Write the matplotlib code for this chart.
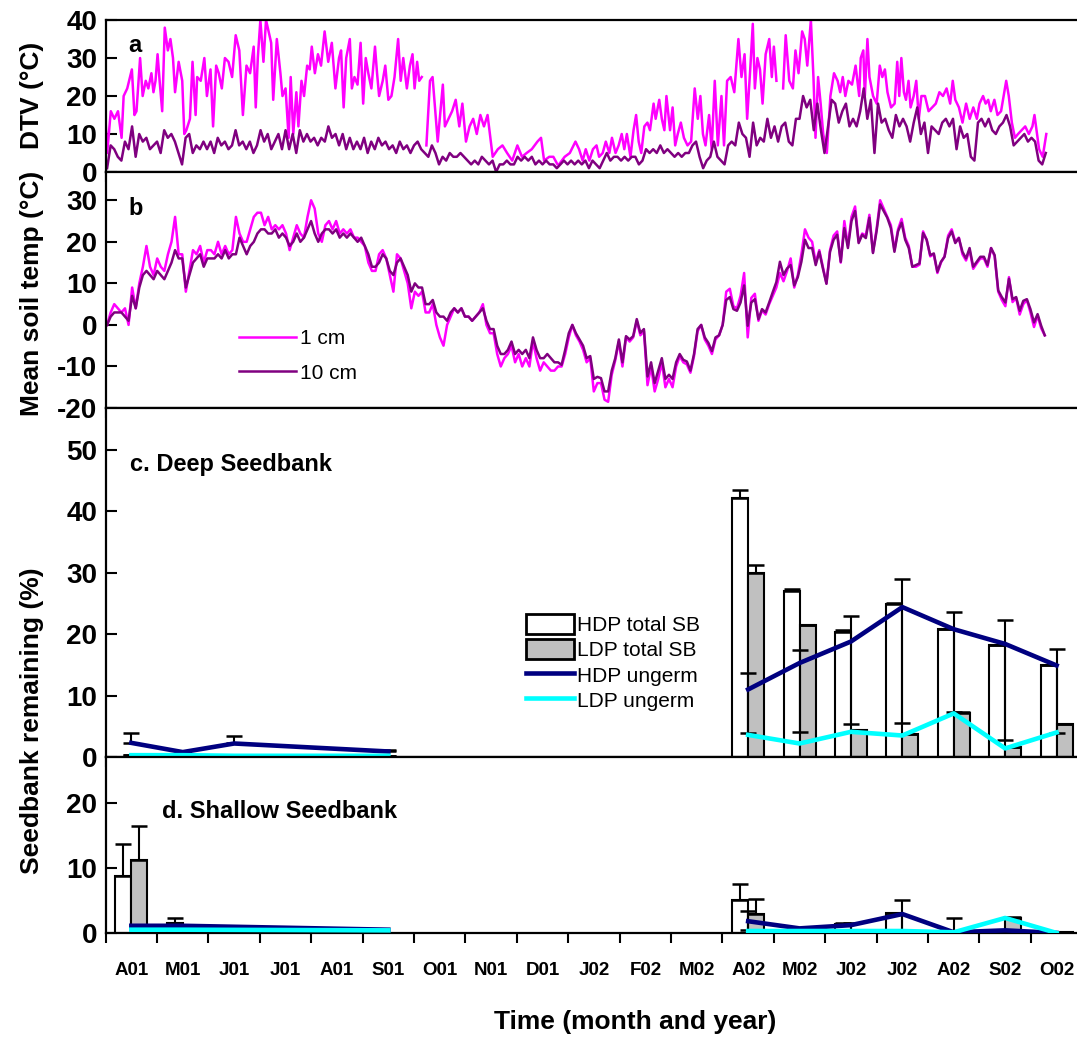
import numpy as np
import matplotlib.pyplot as plt
from matplotlib.patches import Patch
from matplotlib.lines import Line2D

plt.rcParams['font.family'] = ['Liberation Sans', 'DejaVu Sans']

# month labels, Apr 2001 - Oct 2002 (one unit on the x axis = one month)
month_labels = ['A01', 'M01', 'J01', 'J01', 'A01', 'S01', 'O01', 'N01', 'D01', 'J02',
                'F02', 'M02', 'A02', 'M02', 'J02', 'J02', 'A02', 'S02', 'O02']

nan = np.nan

# a. daily temperature variation at 1 cm (month, degC)
dtv1_pts = [
    (0.00, 13), (0.03, 5), (0.10, 16), (0.17, 14), (0.24, 16), (0.31, 9), (0.35, 20), (0.42, 22), (0.51, 27), (0.56, 15),
    (0.60, 16), (0.67, 30), (0.72, 20), (0.78, 24), (0.83, 22), (0.89, 26), (0.93, 21), (0.97, 24), (1.01, 31), (1.05, 24),
    (1.10, 16), (1.15, 38), (1.21, 32), (1.26, 35), (1.31, 30), (1.35, 21), (1.42, 29), (1.49, 24), (1.53, 10), (1.57, 11),
    (1.64, 14), (1.69, 29), (1.75, 15), (1.78, 25), (1.85, 24), (1.92, 30), (1.97, 20), (2.04, 27), (2.09, 12), (2.15, 28),
    (2.20, 26), (2.26, 22), (2.32, 30), (2.39, 29), (2.46, 25), (2.53, 36), (2.60, 32), (2.67, 15), (2.74, 28), (2.81, 26),
    (2.88, 33), (2.92, 17), (2.96, 30), (3.01, 40), (3.07, 29), (3.12, 40), (3.17, 37), (3.22, 34), (3.26, 19), (3.33, 35),
    (3.40, 26), (3.44, 20), (3.50, 22), (3.56, 9), (3.60, 25), (3.65, 10), (3.71, 21), (3.75, 12), (3.81, 24), (3.86, 20),
    (3.92, 28), (3.97, 27), (4.01, 33), (4.07, 26), (4.13, 31), (4.19, 28), (4.26, 37), (4.33, 29), (4.40, 34), (4.47, 22),
    (4.54, 30), (4.58, 32), (4.63, 17), (4.68, 30), (4.75, 35), (4.79, 22), (4.84, 25), (4.90, 23), (4.96, 34), (5.01, 18),
    (5.06, 30), (5.11, 26), (5.17, 22), (5.24, 33), (5.28, 26), (5.32, 20), (5.39, 24), (5.44, 28), (5.50, 19), (5.56, 20),
    (5.62, 25), (5.69, 35), (5.74, 24), (5.79, 30), (5.86, 22), (5.92, 28), (5.97, 31), (6.01, 22), (6.06, 29), (6.10, 24),
    (6.15, 25), (6.20, nan), (6.24, 7), (6.31, 24), (6.36, 25), (6.42, 15), (6.46, 8), (6.56, 23), (6.60, 12), (6.67, 14),
    (6.74, 16), (6.81, 19), (6.88, 12), (6.94, 18), (7.01, 8), (7.08, 12), (7.15, 14), (7.22, 10), (7.29, 15), (7.36, 12),
    (7.43, 15), (7.53, 4), (7.63, 6), (7.72, 7), (7.81, 5), (7.91, 3), (8.01, 7), (8.10, 4), (8.19, 5), (8.29, 6),
    (8.40, 8), (8.47, 9), (8.53, 3), (8.63, 4), (8.71, 4), (8.79, 2), (8.82, 2), (8.93, 4), (9.03, 5), (9.14, 8),
    (9.21, 6), (9.28, 3), (9.34, 6), (9.41, 3), (9.48, 6), (9.55, 7), (9.60, 4), (9.67, 5), (9.73, 8), (9.80, 5),
    (9.85, 9), (9.92, 5), (9.98, 7), (10.04, 10), (10.09, 6), (10.14, 10), (10.21, 4), (10.27, 11), (10.32, 15), (10.37, 8),
    (10.42, 5), (10.48, 12), (10.54, 13), (10.59, 11), (10.66, 18), (10.70, 14), (10.77, 19), (10.82, 14), (10.87, 11), (10.91, 20),
    (10.98, 11), (11.03, 17), (11.08, 7), (11.13, 10), (11.19, 13), (11.25, 9), (11.32, 7), (11.39, 8), (11.46, 22), (11.52, 14),
    (11.57, 20), (11.62, 10), (11.67, 7), (11.74, 15), (11.79, 6), (11.85, 24), (11.91, 7), (11.98, 20), (12.03, 7), (12.09, 24),
    (12.16, 25), (12.23, 21), (12.31, 35), (12.37, 25), (12.43, 31), (12.48, 14), (12.54, 27), (12.59, 39), (12.63, 22), (12.68, 30),
    (12.73, 27), (12.78, 18), (12.84, 31), (12.91, 35), (12.96, 25), (13.00, 33), (13.05, 24), (13.10, nan), (13.18, 22), (13.23, 36),
    (13.30, 24), (13.37, 22), (13.42, 32), (13.48, 26), (13.55, 37), (13.60, 35), (13.65, 28), (13.72, 40), (13.77, 25), (13.81, 9),
    (13.86, 25), (13.91, 18), (13.96, 10), (14.03, 5), (14.10, 20), (14.17, 26), (14.24, 24), (14.29, 21), (14.34, 25), (14.39, 20),
    (14.45, 24), (14.52, 23), (14.59, 28), (14.66, 20), (14.69, 30), (14.74, 32), (14.77, 20), (14.82, 35), (14.86, 25), (14.93, 20),
    (15.00, 18), (15.06, 28), (15.11, 25), (15.16, 27), (15.21, 21), (15.28, 17), (15.35, 18), (15.40, 29), (15.44, 20), (15.48, 30),
    (15.53, 21), (15.57, 19), (15.62, 24), (15.66, 17), (15.72, 20), (15.77, 24), (15.82, 14), (15.87, 20), (15.94, 20), (16.01, 16),
    (16.08, 17), (16.15, 18), (16.22, 21), (16.29, 20), (16.36, 22), (16.43, 18), (16.48, 24), (16.53, 19), (16.60, 17), (16.67, 13),
    (16.74, 18), (16.81, 14), (16.88, 17), (16.95, 14), (17.00, 18), (17.07, 20), (17.12, 18), (17.17, 19), (17.22, 16), (17.29, 19),
    (17.35, 15), (17.42, 16), (17.47, 20), (17.52, 24), (17.57, 20), (17.63, 13), (17.69, 9), (17.75, 10), (17.82, 11), (17.89, 12),
    (17.96, 10), (18.03, 12), (18.07, 15), (18.12, 10), (18.16, 6), (18.23, 4), (18.30, 10),
]

# a. daily temperature variation at 10 cm, about every 2 days
dtv10 = [
    1, 7, 6, 4, 3, 8, 6, 12, 4, 10, 8, 9, 6, 7, 8, 5, 11, 9, 10, 8,
    5, 2, 9, 10, 5, 7, 6, 8, 6, 8, 5, 9, 7, 8, 6, 7, 11, 7, 8, 6,
    8, 5, 7, 11, 8, 10, 6, 8, 10, 6, 11, 6, 10, 5, 11, 8, 10, 8, 9, 7,
    9, 8, 12, 9, 10, 7, 10, 6, 9, 6, 8, 6, 9, 5, 8, 6, 9, 7, 8, 6,
    7, 5, 8, 6, 7, 5, 7, 8, 6, 5, 4, 7, 5, 2, 4, 3, 5, 4, 4, 5,
    4, 3, 2, 3, 2, 4, 3, 2, 3, 0, 2, 2, 3, 2, 2, 4, 3, 4, 3, 4,
    2, 3, 2, 3, 2, 2, 1,
    2, 3, 2, 3, 2, 3, 2, 3, 1, 3, 2, 1, 3, 5, 3, 4, 4, 3, 4, 3,
    4, 4, 2, 3, 6, 5, 6, 5, 7, 5, 6, 5, 4, 5, 4, 5, 5, 7, 8, 4,
    1, 3, 4, 8, 4, 3, 2, 7, 8, 7, 13, 10, 9, 4, 13, 7, 9, 8, 14, 9,
    12, 8, 12, 13, 8, 7, 14, 14, 20, 17, 19, 11, 18, 11, 5, 12, 19, 18, 13, 16,
    18, 12, 14, 12, 16, 22, 14, 19, 5, 18, 13, 14, 11, 9, 15, 12, 14, 12, 8, 13,
    17, 10, 13, 5, 12, 11, 10, 13, 14, 12, 14, 6, 12, 9, 10, 4, 3, 13, 14, 12,
    14, 11, 10, 12, 13, 15, 12, 7, 8, 9, 10, 8, 9, 8, 3, 2, 5,
]

# b. mean soil temperature, about every 2 days
soil1 = [
    0, 3, 5, 4, 3, 4, 0, 9, 4, 10, 14, 19, 14, 12, 16, 14, 13, 17, 20, 26,
    17, 17, 8, 13, 18, 17, 19, 15, 18, 18, 17, 20, 17, 19, 17, 18, 26, 22, 20, 20,
    23, 26, 27, 27, 24, 26, 23, 24, 23, 24, 22, 18, 21, 24, 22, 21, 26, 30, 28, 22,
    20, 24, 25, 23, 25, 22, 23, 22, 23, 21, 21, 20, 19, 15, 13, 13, 17, 18, 16, 12,
    8, 17, 16, 13, 10, 4, 8, 7, 8, 3, 3, 5, 0, -3, -5, 0, 2, 4, 3, 4,
    2, 2, 1, 2, 3, 5, 0, -2, -2, -7, -10, -8, -7, -5, -9, -7, -10, -8, -10, -4,
    -8, -11, -9, -10, -11, -11, -10,
    -10, -7, -3, 0, -2.5, -4, -6, -9, -8, -16, -14, -14, -18, -18.5, -12, -8.5, -4, -10, -3, -4,
    -3, 1, -2.5, -1.5, -14.5, -10, -16, -13, -9, -15, -13, -15, -10, -7.5, -9, -9.5, -11.5, -7.5, -1.5, 0,
    -3.5, -5, -7, -3.5, -2.5, 0, 8, 8.7, 4.5, 4, 7, 12.5, -3, 6.5, 7.5, 1, 3.5, 2.5, 5, 7,
    9, 12.5, 10.5, 13, 16, 9, 12, 17, 23, 21, 20, 15, 18, 14, 10, 18, 21.5, 22.5, 15, 25,
    19, 26, 28.5, 20, 22, 21.5, 26.5, 17.5, 23, 30, 28, 26, 24, 18, 23, 25.5, 21, 19, 14, 14,
    14.5, 22.5, 20.5, 16.5, 17, 12.5, 15, 16.5, 21.5, 23, 20, 21, 17, 15.5, 18, 13.5, 14.8, 16, 16, 14,
    18.5, 16.5, 8, 6, 4.5, 11.5, 5.5, 6.5, 2.5, 5, 6, 3, -0.5, 2.2, -0.8, -2.5,
]
soil10 = [
    0, 2, 3, 3, 3, 2, 1, 7, 4, 9, 12, 13, 12, 11, 13, 12, 11, 13, 15, 18,
    16, 16, 9, 12, 15, 16, 17, 14, 16, 16, 16, 17, 16, 18, 16, 17, 17, 21, 19, 17,
    19, 20, 22, 23, 23, 22, 22, 23, 21, 22, 21, 19, 20, 22, 20, 21, 23, 25, 22, 20,
    22, 23, 23, 22, 23, 21, 22, 21, 22, 21, 20, 21, 19, 17, 14, 14, 15, 17, 16, 13,
    12, 15, 16, 14, 12, 8, 10, 9, 9, 5, 5, 6, 3, 2, 2, 1, 3, 4, 3, 4,
    2, 2, 1, 2, 3, 4, 1, -1, -1, -5, -7, -7, -6, -4, -7, -6, -7, -6, -8, -3,
    -6, -8, -8, -7, -8, -9, -9,
    -9.6, -6, -2, 0, -2, -3.5, -5, -8, -7.5, -13, -12.5, -12.8, -16, -16, -11, -8, -3.5, -9, -2.7, -3.5,
    -2.7, 1.4, -1.9, -1, -12.4, -9, -14, -11, -8, -13, -12, -13, -9, -7, -8.4, -8.8, -11, -7, -1, 0,
    -3, -4.3, -6.3, -3, -2.5, 0, 6, 6.7, 3.8, 3.4, 5.4, 9.5, -0.2, 5.4, 6.2, 1.4, 3.8, 3, 5.4, 7.9,
    10.3, 15.2, 12, 13.6, 14.4, 9.5, 11.5, 15.2, 20.5, 18.5, 18.5, 14.4, 17.6, 13.6, 9.9, 17.6, 20.5, 21.7, 15.2, 23.3,
    18.5, 25, 27.4, 19.7, 21.7, 20.9, 25.8, 17.3, 22.5, 29, 27.4, 25.8, 23.3, 17.6, 22.5, 24.6, 20.5, 18.5, 14, 14.4,
    14.8, 22.1, 20.5, 16.8, 17.2, 12.8, 15.2, 16.4, 20.9, 22.5, 19.7, 20.9, 17.6, 16, 18.5, 14, 15.2, 16.4, 16.4, 14.4,
    18.5, 16.8, 8.3, 6.7, 5.4, 11.1, 6.2, 6.7, 3.4, 5.8, 6.2, 3.8, 0.6, 2.6, -0.2, -2.5,
]

# c. deep seedbank
deep01_hdp_x = [0.5, 1.5, 2.5, 5.5]
deep01_hdp_ug = [2.3, 0.8, 2.2, 0.9]
deep01_hdp_err = [1.6, 0.0, 1.3, 0.2]
deep01_ldp_x = [0.5, 1.5, 2.5, 4.5, 5.5]
deep01_ldp_ug = [0.3, 0.3, 0.2, 0.2, 0.2]
deep01_ldp_err = [0.1, 0.0, 0.0, 0.1, 0.0]

samp02_x = [12.5, 13.5, 14.5, 15.5, 16.5, 17.5, 18.5]
deep_hdp_tot = [42.1, 27.0, 20.4, 24.9, 20.8, 18.3, 15.0]
deep_hdp_tot_err = [1.3, 0.3, 0.2, 0.2, 0.0, 0.0, 0.0]
deep_ldp_tot = [29.9, 21.5, 4.4, 3.7, 7.1, 1.6, 5.4]
deep_ldp_tot_err = [1.4, 0.0, 0.0, 0.0, 0.2, 0.0, 0.0]
deep_hdp_ug = [11.0, 15.3, 18.8, 24.4, 20.8, 18.4, 14.9]
deep_hdp_ug_up = [2.6, 2.1, 4.2, 4.5, 2.8, 3.9, 2.7]
deep_hdp_ug_dn = [7.1, 11.3, 13.5, 18.9, 13.4, 15.6, 11.0]
deep_ldp_ug = [3.6, 2.2, 4.1, 3.5, 7.1, 1.4, 4.0]

# d. shallow seedbank
sh01_bar_x = [0.5, 1.5, 4.5]
sh01_hdp_tot = [8.7, 1.6, 0.2]
sh01_hdp_tot_err = [4.9, 0.7, 0.0]
sh01_ldp_tot = [11.2, 0.6, 0.2]
sh01_ldp_tot_err = [5.2, 0.3, 0.0]
sh01_ug_x = [0.5, 1.5, 5.5]
sh01_hdp_ug = [1.1, 1.1, 0.5]
sh01_ldp_ug = [0.5, 0.5, 0.4]

sh_hdp_tot = [5.1, 0.3, 1.3, 3.1, 0.0, 0.3, 0.0]
sh_hdp_tot_err = [2.4, 0.0, 0.2, 0.0, 0.0, 0.0, 0.0]
sh_ldp_tot = [2.9, 0.2, 0.3, 0.2, 0.0, 2.3, 0.2]
sh_ldp_tot_err = [2.3, 0.0, 0.0, 0.0, 0.0, 0.1, 0.0]
sh_hdp_ug = [1.8, 0.7, 1.2, 2.9, 0.1, 0.4, 0.0]
sh_hdp_ug_up = [1.5, 0.1, 0.3, 2.2, 2.2, 0.1, 0.0]
sh_hdp_ug_dn = [1.3, 0.0, 0.7, 2.5, 0.0, 0.0, 0.0]
sh_ldp_ug = [0.3, 0.3, 0.3, 0.3, 0.1, 2.3, 0.0]

c_mag = '#ff00ff'
c_pur = '#800080'
c_navy = '#000080'
c_cyan = '#00ffff'
c_gray = '#c0c0c0'
bw = 0.31

fig = plt.figure(figsize=(10.77, 10.38), dpi=100)
L, W = 0.0981, 0.9068
ax_a = fig.add_axes([L, 0.8343, W, 0.1464])
ax_b = fig.add_axes([L, 0.6069, W, 0.2274])
ax_c = fig.add_axes([L, 0.2707, W, 0.3362])
ax_d = fig.add_axes([L, 0.1012, W, 0.1696])


def style(ax, ylim, yticks):
    ax.set_xlim(0, 19)
    ax.set_ylim(*ylim)
    ax.set_xticks(np.arange(0, 20))
    ax.set_xticklabels([])
    ax.set_yticks(yticks, labels=[str(t) for t in yticks], fontsize=20, fontweight='bold')
    ax.tick_params(axis='x', which='major', direction='out', length=7, width=1.5)
    ax.tick_params(axis='y', direction='in', length=8, width=1.5, pad=6)
    for s in ax.spines.values():
        s.set_linewidth(1.6)


# panel a
xa = [p[0] for p in dtv1_pts]
ya = [p[1] for p in dtv1_pts]
ax_a.plot(xa, ya, color=c_mag, lw=1.8)
ax_a.plot(np.linspace(0.028, 18.29, len(dtv10)), dtv10, color=c_pur, lw=1.8)
style(ax_a, (0, 40), [0, 10, 20, 30, 40])
ax_a.text(0.023, 0.835, 'a', transform=ax_a.transAxes, fontsize=17, fontweight='bold', va='center')

# panel b
xb = np.linspace(0.028, 18.27, len(soil1))
ax_b.plot(xb, soil1, color=c_mag, lw=1.8, label='1 cm')
ax_b.plot(xb, soil10, color=c_pur, lw=1.8, label='10 cm')
style(ax_b, (-20, 36.8), [-20, -10, 0, 10, 20, 30])
ax_b.text(0.023, 0.847, 'b', transform=ax_b.transAxes, fontsize=17, fontweight='bold', va='center')
ax_b.legend(loc='upper left', bbox_to_anchor=(0.137, 0.335), frameon=False, fontsize=15,
            handlelength=2.7, handletextpad=0.2, labelspacing=0.75, borderpad=0, borderaxespad=0)


def bars(ax, x, hdp, hdp_err, ldp, ldp_err):
    x = np.asarray(x)
    ax.bar(x - bw / 2, hdp, bw, color='white', edgecolor='black', lw=1.5, zorder=2)
    ax.bar(x + bw / 2, ldp, bw, color=c_gray, edgecolor='black', lw=1.5, zorder=2)
    for off, v, e in ((-bw / 2, hdp, hdp_err), (bw / 2, ldp, ldp_err)):
        v = np.asarray(v)
        e = np.asarray(e)
        m = (e > 0) | (v > 0)
        ax.errorbar(x[m] + off, v[m], yerr=[np.zeros(m.sum()), e[m]], fmt='none', ecolor='black',
                    elinewidth=1.5, capsize=5.5, capthick=1.8, zorder=3)


def ugerr(ax, x, y, dn, up):
    ax.errorbar(x, y, yerr=[dn, up], fmt='none', ecolor='black', elinewidth=1.5,
                capsize=5.5, capthick=1.8, zorder=3)


# panel c
bars(ax_c, samp02_x, deep_hdp_tot, deep_hdp_tot_err, deep_ldp_tot, deep_ldp_tot_err)
ugerr(ax_c, deep01_hdp_x, deep01_hdp_ug, np.zeros(len(deep01_hdp_x)), deep01_hdp_err)
ugerr(ax_c, deep01_ldp_x, deep01_ldp_ug, np.zeros(len(deep01_ldp_x)), deep01_ldp_err)
ugerr(ax_c, samp02_x, deep_hdp_ug, deep_hdp_ug_dn, deep_hdp_ug_up)
ax_c.plot(deep01_hdp_x, deep01_hdp_ug, color=c_navy, lw=3.3, zorder=4)
ax_c.plot(deep01_ldp_x, deep01_ldp_ug, color=c_cyan, lw=3.3, zorder=4)
ax_c.plot(samp02_x, deep_hdp_ug, color=c_navy, lw=3.3, zorder=4)
ax_c.plot(samp02_x, deep_ldp_ug, color=c_cyan, lw=3.3, zorder=4)
style(ax_c, (0, 56.8), [0, 10, 20, 30, 40, 50])
ax_c.text(0.025, 0.837, 'c. Deep Seedbank', transform=ax_c.transAxes, fontsize=17,
          fontweight='bold', va='center')
handles = [Patch(facecolor='white', edgecolor='black', lw=2),
           Patch(facecolor=c_gray, edgecolor='black', lw=2),
           Line2D([], [], color=c_navy, lw=3.3),
           Line2D([], [], color=c_cyan, lw=3.3)]
ax_c.legend(handles, ['HDP total SB', 'LDP total SB', 'HDP ungerm', 'LDP ungerm'],
            loc='upper left', bbox_to_anchor=(0.43, 0.41), frameon=False, fontsize=15,
            handlelength=2.3, handleheight=1.1, handletextpad=0.15, labelspacing=0.2,
            borderpad=0, borderaxespad=0)

# panel d
bars(ax_d, sh01_bar_x, sh01_hdp_tot, sh01_hdp_tot_err, sh01_ldp_tot, sh01_ldp_tot_err)
bars(ax_d, samp02_x, sh_hdp_tot, sh_hdp_tot_err, sh_ldp_tot, sh_ldp_tot_err)
ugerr(ax_d, samp02_x, sh_hdp_ug, sh_hdp_ug_dn, sh_hdp_ug_up)
ax_d.plot(sh01_ug_x, sh01_hdp_ug, color=c_navy, lw=3.3, zorder=4)
ax_d.plot(sh01_ug_x, sh01_ldp_ug, color=c_cyan, lw=3.3, zorder=4)
ax_d.plot(samp02_x, sh_hdp_ug, color=c_navy, lw=3.3, zorder=4)
ax_d.plot(samp02_x, sh_ldp_ug, color=c_cyan, lw=3.3, zorder=4)
style(ax_d, (0, 27), [0, 10, 20])
ax_d.text(0.058, 0.69, 'd. Shallow Seedbank', transform=ax_d.transAxes, fontsize=17,
          fontweight='bold', va='center')
ax_d.set_xticks(np.arange(19) + 0.5, labels=month_labels, minor=True, fontsize=13.5, fontweight='bold')
ax_d.tick_params(axis='x', which='minor', length=0, pad=21)

# axis titles
fig.text(0.0297, 0.9085, 'DTV (°C)', rotation=90, fontsize=19, fontweight='bold', ha='center', va='center')
fig.text(0.0297, 0.717, 'Mean soil temp (°C)', rotation=90, fontsize=19, fontweight='bold', ha='center', va='center')
fig.text(0.0297, 0.3054, 'Seedbank remaining (%)', rotation=90, fontsize=19, fontweight='bold', ha='center', va='center')
fig.text(0.59, 0.0155, 'Time (month and year)', fontsize=19, fontweight='bold', ha='center', va='center')

fig.savefig('out.png', dpi=100)
